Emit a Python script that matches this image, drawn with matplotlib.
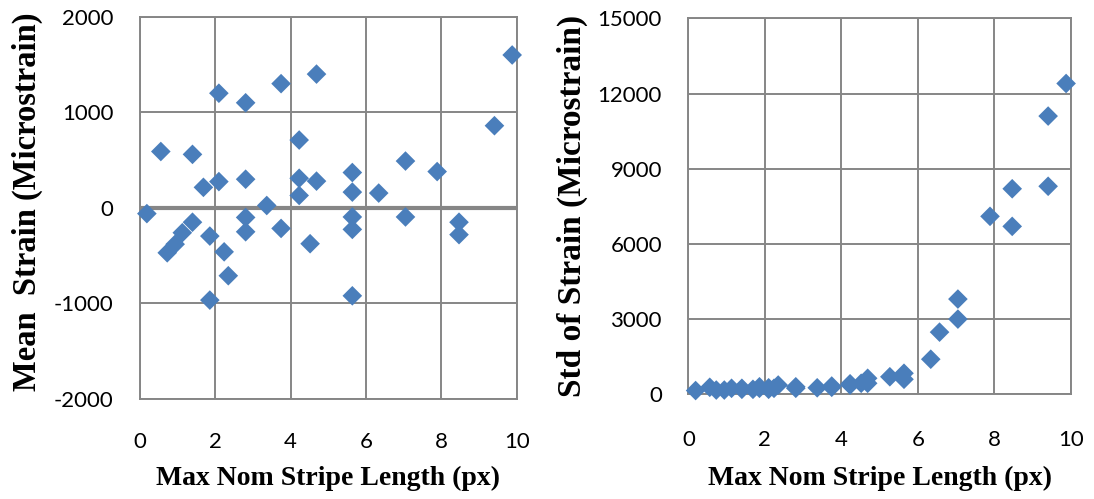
import matplotlib
matplotlib.use("Agg")
import matplotlib.pyplot as plt

plt.rcParams["axes.unicode_minus"] = False

# Mean strain vs. maximum nominal stripe length
mean_x = [0.19, 0.56, 0.73, 0.94, 1.13, 1.40, 1.40, 1.69, 1.86, 1.86,
          2.10, 2.10, 2.24, 2.35, 2.81, 2.81, 2.81, 2.81, 3.37, 3.75,
          3.75, 4.23, 4.23, 4.23, 4.52, 4.69, 4.69, 5.64, 5.64, 5.64,
          5.64, 5.64, 6.34, 7.05, 7.05, 7.89, 8.47, 8.47, 9.41, 9.88]
mean_strain = [-60, 590, -470, -380, -260, 560, -150, 215, -295, -965,
               1200, 275, -460, -710, 1100, 300, -100, -250, 25, 1300,
               -215, 710, 310, 130, -375, 1400, 280, 370, 165, -95,
               -225, -920, 155, 490, -95, 380, -150, -280, 860, 1600]

# Standard deviation of strain vs. maximum nominal stripe length
std_x = [0.19, 0.56, 0.73, 0.94, 1.13, 1.40, 1.40, 1.69, 1.86, 1.86,
         2.10, 2.10, 2.24, 2.35, 2.81, 2.81, 3.37, 3.75, 3.75, 4.23,
         4.23, 4.52, 4.69, 4.69, 5.27, 5.64, 5.64, 6.34, 6.57, 7.05,
         7.05, 7.89, 8.47, 8.47, 9.41, 9.41, 9.88]
std_strain = [150, 280, 170, 170, 240, 240, 200, 200, 240, 300,
              200, 260, 240, 370, 240, 300, 260, 330, 280, 370,
              420, 440, 640, 440, 700, 840, 600, 1400, 2480, 3800,
              3000, 7100, 8200, 6700, 11100, 8300, 12400]

x_ticks = [0, 2, 4, 6, 8, 10]
mean_ticks = [-2000, -1000, 0, 1000, 2000]
std_ticks = [0, 3000, 6000, 9000, 12000, 15000]

MARK = "#4A7EBB"
GRID = "#868686"
TICK_FAMILY = "Lato"
TICK_SIZE = 16
LABEL_FAMILY = "Liberation Serif"

fig = plt.figure(figsize=(10.94, 4.99), dpi=100)
ax1 = fig.add_axes([0.1277, 0.2004, 0.3446, 0.766])
ax2 = fig.add_axes([0.6292, 0.2098, 0.3495, 0.7535])


def style(ax, yticks, xpad):
    ax.set_xlim(0, 10)
    ax.set_ylim(yticks[0], yticks[-1])
    ax.set_xticks(x_ticks)
    ax.set_yticks(yticks)
    ax.grid(True, color=GRID, linewidth=1.4)
    ax.set_axisbelow(True)
    for s in ax.spines.values():
        s.set_color(GRID)
        s.set_linewidth(1.4)
    ax.tick_params(length=0)
    ax.tick_params(axis="x", pad=xpad)
    ax.tick_params(axis="y", pad=19)
    for lab in ax.get_xticklabels() + ax.get_yticklabels():
        lab.set_fontfamily(TICK_FAMILY)
        lab.set_fontsize(TICK_SIZE)


def labels(ax, xtext, ytext, xlab_y, ylab_x, ylab_y, ysize):
    ax.set_xlabel(xtext, family=LABEL_FAMILY, size=20, weight="bold")
    ax.xaxis.set_label_coords(0.5, xlab_y)
    ax.xaxis.label.set_va("center")
    ax.set_ylabel(ytext, family=LABEL_FAMILY, size=ysize, weight="bold")
    ax.yaxis.set_label_coords(ylab_x, ylab_y)
    ax.yaxis.label.set_va("center")


style(ax1, mean_ticks, 24)
ax1.axhline(0, color=GRID, linewidth=3.0, zorder=1.5)
ax1.scatter(mean_x, mean_strain, marker="D", s=100, color=MARK,
            edgecolors="none", zorder=3, clip_on=False)
labels(ax1, "Max Nom Stripe Length (px)", "Mean  Strain (Microstrain)",
       -0.2066, -0.299, 0.5166, 23.5)

style(ax2, std_ticks, 25.5)
ax2.scatter(std_x, std_strain, marker="D", s=100, color=MARK,
            edgecolors="none", zorder=3, clip_on=False)
labels(ax2, "Max Nom Stripe Length (px)", "Std of Strain (Microstrain)",
       -0.2234, -0.304, 0.5008, 24.0)

fig.savefig("out.png", dpi=100)
